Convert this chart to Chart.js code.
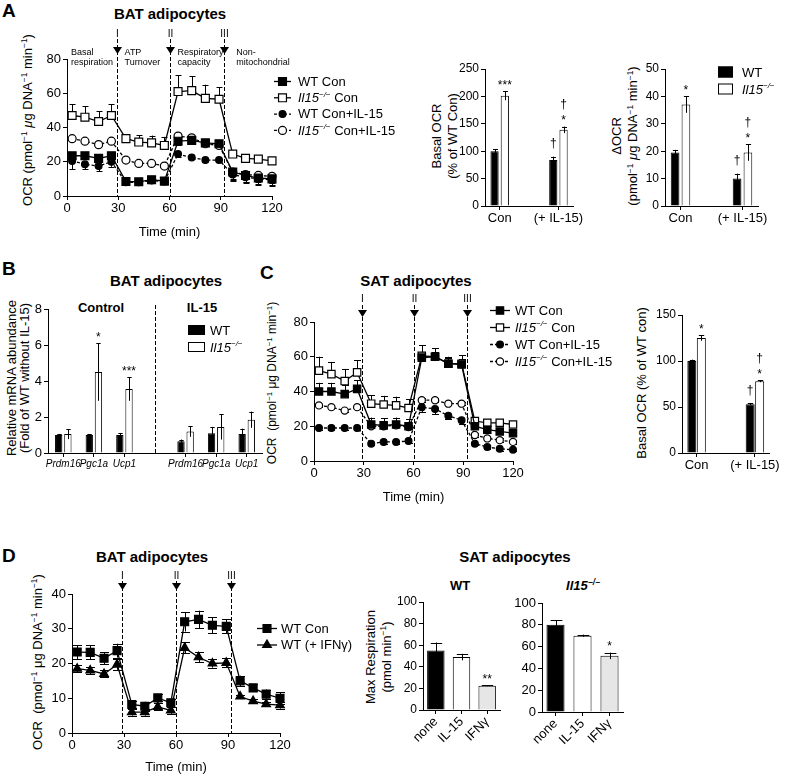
<!DOCTYPE html>
<html><head><meta charset="utf-8"><title>Figure</title>
<script src="https://cdn.jsdelivr.net/npm/chart.js@4.4.1/dist/chart.umd.min.js"></script>
<style>
html,body{margin:0;padding:0;background:#fff}
body{position:relative;width:785px;height:775px;overflow:hidden;font-family:"Liberation Sans",Arial,Helvetica,sans-serif;color:#000}
canvas{position:absolute}
.tx{position:absolute;white-space:nowrap;text-align:center}
.tx sup{font-size:0.65em;vertical-align:0;position:relative;top:-0.55em;line-height:0}
</style></head><body>
<script>
// ================= DATA =================
const timeMin = [3, 10.5, 18.5, 26, 34.5, 42, 49.5, 57, 65, 73, 81, 89, 97, 104.5, 112, 120];
const injectionTimes = [29, 60, 92];
const injectionLabels = ['I', 'II', 'III'];
const phaseNames = [['Basal', 'respiration'], ['ATP', 'Turnover'], ['Respiratory', 'capacity'], ['Non-', 'mitochondrial']];

// Panel A – BAT adipocytes, OCR time course
const ocrSeriesNames = ['WT Con', '<i>Il15</i><sup><i>−/−</i></sup> Con', 'WT Con+IL-15', '<i>Il15</i><sup><i>−/−</i></sup> Con+IL-15'];
const batWTCon     = [23.5, 23.5, 22, 23.5, 8.5, 8.3, 9.5, 8.7, 32, 32.5, 31, 30.5, 14, 12, 10.5, 10];
const batWTConErr  = [2, 2, 2, 2, 1, 1, 1, 1, 2, 2, 2, 2, 4, 4, 4, 4];
const batKOCon     = [47, 46, 43.5, 47, 33.5, 31.5, 31, 29.5, 61, 61.5, 57, 56.5, 24.5, 22, 21.5, 20.5];
const batKOConErr  = [6.5, 6.5, 6, 6.5, 2.6, 4, 4.3, 5, 9.5, 8.5, 8, 7, 2, 1.2, 1.2, 1.5];
const batWTIL      = [20.5, 18.5, 17.5, 20, 8, 8, 9, 8.5, 24.5, 22.5, 21, 21, 12.5, 11, 10, 9.5];
const batWTILErr   = [5, 3, 3, 3, 1, 1, 1, 1, 1.5, 1, 1, 1, 3, 3, 3, 3];
const batKOIL      = [33.5, 32, 30, 32, 21, 19, 19, 17.5, 35, 34, 30.5, 29.5, 14, 12.5, 12, 11.5];
const batKOILErr   = [1, 1, 1, 1, 1, 1, 1, 1, 2, 2, 1.5, 1.5, 5, 5, 4, 4];

// Panel A – Basal OCR and ΔOCR bars
const groupLabels = ['Con', '(+ IL-15)'];
const genotypeNames = ['WT', '<i>Il15</i><sup><i>−/−</i></sup>'];
const basalWT = [100, 84],   basalWTErr = [4, 6],   basalWTMarks = [[], ['†']];
const basalKO = [201, 139],  basalKOErr = [8, 6],   basalKOMarks = [['***'], ['*', '†']];
const deltaWT = [19.5, 10],  deltaWTErr = [1, 1.8], deltaWTMarks = [[], ['†']];
const deltaKO = [37, 19.5],  deltaKOErr = [3, 3],   deltaKOMarks = [['*'], ['*', '†']];

// Panel B – relative mRNA abundance
const genes = ['Prdm16', 'Pgc1a', 'Ucp1'];
const treatmentGroups = ['Control', 'IL-15'];
const mrnaWTControl = [1.0, 1.0, 1.0],   mrnaWTControlErr = [0.05, 0.05, 0.1];
const mrnaKOControl = [1.05, 4.5, 3.55], mrnaKOControlErr = [0.28, 1.6, 0.65], mrnaKOControlMarks = [[], ['*'], ['***']];
const mrnaWTIL15 = [0.65, 1.1, 1.05],    mrnaWTIL15Err = [0.1, 0.35, 0.3];
const mrnaKOIL15 = [1.2, 1.45, 1.85],    mrnaKOIL15Err = [0.3, 0.7, 0.45];

// Panel C – SAT adipocytes
const satWTCon    = [40, 40, 38.5, 41.5, 21, 20.5, 21, 20, 59.5, 60, 56, 55.5, 20, 18, 17, 16];
const satWTConErr = [5, 5, 5, 5, 4, 4, 4, 4, 3, 3, 3, 3, 2, 2, 2, 2];
const satKOCon    = [52, 50, 46, 51, 33, 32.5, 32, 30.5, 60.5, 60, 56, 56, 23, 22, 22, 21];
const satKOConErr = [8, 7, 7, 7, 5, 5, 5, 5, 6, 5, 4, 5, 2, 2, 1, 1];
const satWTIL     = [19, 19, 19, 19, 10, 11, 11, 11.5, 31, 30, 26, 23.5, 10, 8, 7, 6.5];
const satWTILErr  = [1, 1, 1, 1, 1, 1, 1, 1, 3, 3, 2, 2, 1, 1, 1, 1];
const satKOIL     = [32, 31, 29, 31, 20, 20, 20.5, 19.5, 35, 35, 33, 33, 15, 13, 12, 11];
const satKOILErr  = [1, 1, 1, 1, 1, 1, 1, 1, 1, 1, 1, 1, 1, 1, 1, 1];
const satBasalWT = [100, 53], satBasalWTErr = [1.5, 1], satBasalWTMarks = [[], ['†']];
const satBasalKO = [125, 78], satBasalKOErr = [3, 1],   satBasalKOMarks = [['*'], ['*', '†']];

// Panel D – IFNγ
const ifnSeriesNames = ['WT Con', 'WT (+ IFNγ)'];
const dWTCon    = [23.3, 23.2, 21.5, 23.7, 8.2, 7.7, 10.1, 8.7, 32, 32.7, 31, 30.7, 15, 13, 11.2, 10];
const dWTConErr = [2, 2, 1.7, 2, 1.1, 1.3, 1, 1.2, 2.8, 2.5, 2.3, 2, 1.5, 1, 1.3, 1.7];
const dWTIFN    = [18.5, 18, 17, 19.7, 6, 6, 7.5, 6.5, 24.5, 21.8, 20, 20.2, 10.5, 9.2, 8.3, 8];
const dWTIFNErr = [1, 1, 1, 1.5, 1, 1, 1, 1, 1.6, 1.5, 1.2, 1.3, 0.5, 0.5, 0.5, 1];
const treatments = ['none', 'IL-15', 'IFNγ'];
const maxRespWT = [55, 49, 22.5], maxRespWTErr = [7.5, 3, 0.5], maxRespWTMarks = [[], [], ['**']];
const maxRespKO = [80, 70, 51.5], maxRespKOErr = [4, 1, 3],    maxRespKOMarks = [[], [], ['*']];

// ================= HELPERS =================
const FONT = '"Liberation Sans", Arial, Helvetica, sans-serif';
Chart.defaults.font.family = FONT;
Chart.defaults.color = '#000';

function addText(html, x, y, o) {
  o = o || {};
  const d = document.createElement('div');
  d.className = 'tx';
  d.innerHTML = html;
  const tr = o.anchor === 'lt' ? '' : 'translate(-50%,-50%)' + (o.rot ? ' rotate(-90deg)' : '');
  d.style.cssText += `left:${x}px;top:${y}px;font-size:${o.size || 13}px;font-weight:${o.bold ? 'bold' : 'normal'};line-height:${o.lh || 1.2};transform:${tr};`;
  document.body.appendChild(d);
}

function makeCanvas(area, m) {
  const c = document.createElement('canvas');
  const w = area.r - area.l + m.left + m.right;
  const h = area.b - area.t + m.top + m.bottom;
  c.width = w; c.height = h;
  c.style.left = (area.l - m.left) + 'px';
  c.style.top = (area.t - m.top) + 'px';
  c.style.width = w + 'px'; c.style.height = h + 'px';
  document.body.appendChild(c);
  return c;
}

function parseRich(s) {
  const out = []; let it = false, sup = false, b = false;
  s.split(/(<\/?(?:i|sup|b)>)/).forEach(tok => {
    if (tok === '<i>') it = true; else if (tok === '</i>') it = false;
    else if (tok === '<sup>') sup = true; else if (tok === '</sup>') sup = false;
    else if (tok === '<b>') b = true; else if (tok === '</b>') b = false;
    else if (tok) out.push({t: tok, it, sup, b});
  });
  return out;
}
function drawRich(ctx, s, x, cy, size) {
  ctx.textBaseline = 'alphabetic'; ctx.textAlign = 'left'; ctx.fillStyle = '#000';
  const base = cy + 0.36 * size;
  let cx = x;
  for (const r of parseRich(s)) {
    const fs = r.sup ? Math.round(size * 0.65) : size;
    ctx.font = `${r.b ? 'bold ' : ''}${r.it ? 'italic ' : ''}${fs}px ${FONT}`;
    ctx.fillText(r.t, cx, r.sup ? base - size * 0.4 : base);
    cx += ctx.measureText(r.t).width;
  }
}

function valOf(raw) { return (raw && typeof raw === 'object') ? raw.y : raw; }

function drawErr(chart, o) {
  const ctx = chart.ctx;
  ctx.save();
  ctx.strokeStyle = '#000'; ctx.lineWidth = 1; ctx.setLineDash([]);
  chart.data.datasets.forEach((ds, i) => {
    if (!ds.errors) return;
    const meta = chart.getDatasetMeta(i), ys = chart.scales[meta.yAxisID];
    const dir = ds.errDir || 'both';
    meta.data.forEach((el, j) => {
      const v = valOf(ds.data[j]); const e = ds.errors[j];
      if (v == null || !e) return;
      const x = Math.round(el.x) + 0.5;
      const yv = ys.getPixelForValue(v);
      const yt = dir !== 'down' ? ys.getPixelForValue(v + e) : yv;
      const yb = dir !== 'up' ? ys.getPixelForValue(Math.max(0, v - e)) : yv;
      const cw = (o && o.capW) ? o.capW : (el.width ? el.width * ((o && o.capRatio) || 0.6) : 6);
      ctx.beginPath();
      ctx.moveTo(x, yt); ctx.lineTo(x, yb);
      if (dir !== 'down') { ctx.moveTo(x - cw / 2, Math.round(yt) + 0.5); ctx.lineTo(x + cw / 2, Math.round(yt) + 0.5); }
      if (dir !== 'up' && chart.config.type === 'line') { ctx.moveTo(x - cw / 2, Math.round(yb) + 0.5); ctx.lineTo(x + cw / 2, Math.round(yb) + 0.5); }
      ctx.stroke();
    });
  });
  ctx.restore();
}

function drawMarks(chart) {
  const ctx = chart.ctx;
  ctx.save();
  chart.data.datasets.forEach((ds, i) => {
    if (!ds.marks) return;
    const meta = chart.getDatasetMeta(i), ys = chart.scales[meta.yAxisID];
    meta.data.forEach((el, j) => {
      const list = ds.marks[j]; if (!list || !list.length) return;
      const v = ds.data[j]; const e = ds.errors ? (ds.errors[j] || 0) : 0;
      let y = ys.getPixelForValue(v + e);
      ctx.font = '12px ' + FONT; ctx.textAlign = 'center'; ctx.textBaseline = 'alphabetic'; ctx.fillStyle = '#000';
      list.forEach((mk, k) => {
        const star = mk[0] === '*';
        y -= (k === 0) ? (star ? 9 : 13) : 13;
        ctx.fillText(mk, el.x, y + (star ? 0.57 * 12 : 0.28 * 12));
      });
    });
  });
  ctx.restore();
}

const errPlugin = {
  id: 'errBars',
  beforeDatasetsDraw(chart, a, o) { if (chart.config.type === 'line') drawErr(chart, o); },
  afterDatasetsDraw(chart, a, o) { if (chart.config.type === 'bar') { drawErr(chart, o); drawMarks(chart); } }
};

const injPlugin = {
  id: 'inj',
  afterDraw(chart, a, o) {
    if (!o || !o.times) return;
    const ctx = chart.ctx, top = chart.chartArea.top, bottom = chart.chartArea.bottom, xs = chart.scales.x;
    ctx.save();
    ctx.strokeStyle = '#000'; ctx.fillStyle = '#000'; ctx.lineWidth = 1;
    o.times.forEach((t, i) => {
      const x = Math.round(xs.getPixelForValue(t)) + 0.5;
      ctx.setLineDash([4, 2]);
      ctx.beginPath(); ctx.moveTo(x, top - o.lineTop); ctx.lineTo(x, bottom); ctx.stroke();
      ctx.setLineDash([]);
      ctx.beginPath();
      ctx.moveTo(x - 4.5, top - o.arrowBase); ctx.lineTo(x + 4.5, top - o.arrowBase); ctx.lineTo(x, top - o.arrowTip);
      ctx.closePath(); ctx.fill();
      ctx.font = '10px ' + FONT; ctx.textAlign = 'center'; ctx.textBaseline = 'middle';
      ctx.fillText(o.labels[i], x, top - o.labelOff);
    });
    if (o.phases) {
      const bounds = [0].concat(o.times);
      ctx.font = '9px ' + FONT; ctx.textAlign = 'left'; ctx.textBaseline = 'middle';
      o.phases.forEach((lines, k) => {
        const x = xs.getPixelForValue(bounds[k]) + (k === 0 ? 4 : o.phaseOff[k]);
        lines.forEach((ln, r) => ctx.fillText(ln, x, top - 6 + r * 10));
      });
    }
    ctx.restore();
  }
};

const legPlugin = {
  id: 'richLegend',
  afterDraw(chart, a, o) {
    if (!o || !o.labels) return;
    const ctx = chart.ctx; ctx.save();
    chart.data.datasets.forEach((ds, i) => {
      if (i >= o.labels.length) return;
      const y = o.y + i * o.dy;
      if (o.kind === 'box') {
        ctx.fillStyle = ds.backgroundColor; ctx.fillRect(o.x, y - o.bh / 2, o.bw, o.bh);
        ctx.strokeStyle = '#000'; ctx.lineWidth = 1; ctx.strokeRect(o.x + 0.5, y - o.bh / 2 + 0.5, o.bw - 1, o.bh - 1);
        drawRich(ctx, o.labels[i], o.x + o.bw + o.gap, y, o.size);
      } else {
        ctx.strokeStyle = '#000'; ctx.lineWidth = ds.borderWidth; ctx.setLineDash(ds.borderDash || []);
        ctx.beginPath(); ctx.moveTo(o.x, y + 0.5); ctx.lineTo(o.x + o.len, y + 0.5); ctx.stroke(); ctx.setLineDash([]);
        ctx.fillStyle = ds.pointBackgroundColor; ctx.strokeStyle = '#000'; ctx.lineWidth = ds.pointBorderWidth;
        if (Chart.helpers && Chart.helpers.drawPoint) {
          Chart.helpers.drawPoint(ctx, {pointStyle: ds.pointStyle, radius: ds.pointRadius, rotation: 0, borderWidth: ds.pointBorderWidth}, o.x + o.len / 2, y + 0.5);
        }
        drawRich(ctx, o.labels[i], o.x + o.len + o.gap, y, o.size);
      }
    });
    ctx.restore();
  }
};

const divPlugin = {
  id: 'divider',
  afterDraw(chart, a, o) {
    if (!o || o.index == null) return;
    const ctx = chart.ctx, xs = chart.scales.x;
    const x = Math.round(xs.getPixelForValue(o.index)) + 0.5;
    ctx.save(); ctx.strokeStyle = '#000'; ctx.lineWidth = 1; ctx.setLineDash([4, 2]);
    ctx.beginPath(); ctx.moveTo(x, chart.chartArea.top - o.top); ctx.lineTo(x, chart.chartArea.bottom); ctx.stroke();
    ctx.restore();
  }
};

function yAxis(m, max, step, size) {
  return {
    type: 'linear', min: 0, max: max,
    afterFit: s => { s.width = m.left; },
    ticks: {stepSize: step, font: {size: size}, color: '#000', padding: 2},
    grid: {drawOnChartArea: false, drawTicks: true, tickLength: 4, color: '#000', lineWidth: 1},
    border: {display: true, color: '#000', width: 1}
  };
}

function lineDS(label, vals, errs, dir, style) {
  return Object.assign({
    label: label, data: timeMin.map((t, i) => ({x: t, y: vals[i]})),
    errors: errs, errDir: dir,
    borderColor: '#000', borderWidth: 1.3, tension: 0, clip: false,
    pointBorderColor: '#000', pointBorderWidth: 1.2, pointHoverRadius: 0
  }, style);
}

function lineChart(area, m, datasets, yMax, yStep, inj, legend, capW) {
  const canvas = makeCanvas(area, m);
  const ox = area.l - m.left, oy = area.t - m.top;
  return new Chart(canvas, {
    type: 'line',
    data: {datasets: datasets},
    options: {
      responsive: false, animation: false, events: [],
      layout: {padding: {left: 0, top: m.top, right: m.right, bottom: 0}},
      scales: {
        x: {
          type: 'linear', min: 0, max: 120,
          afterFit: s => { s.height = m.bottom; },
          ticks: {stepSize: 30, font: {size: 13}, color: '#000', padding: 1},
          grid: {drawOnChartArea: false, tickLength: 4, color: '#000'},
          border: {color: '#000', width: 1},
          title: {display: true, text: 'Time (min)', font: {size: 13}, color: '#000', padding: {top: 0, bottom: m.titleBottom == null ? 2 : m.titleBottom}}
        },
        y: yAxis(m, yMax, yStep, 13)
      },
      plugins: {
        legend: {display: false}, tooltip: {enabled: false},
        inj: inj,
        errBars: {capW: capW},
        richLegend: Object.assign({}, legend, {x: legend.x - ox, y: legend.y - oy})
      }
    },
    plugins: [errPlugin, injPlugin, legPlugin]
  });
}

function barDS(label, data, errors, marks, bg, cat, bar) {
  return {label: label, data: data, errors: errors, marks: marks, backgroundColor: bg, borderColor: '#000',
          borderWidth: 1, categoryPercentage: cat, barPercentage: bar};
}

function barChart(area, m, labels, datasets, yMax, yStep, opt) {
  const canvas = makeCanvas(area, m);
  const ox = area.l - m.left, oy = area.t - m.top;
  const plugins = {legend: {display: false}, tooltip: {enabled: false}, errBars: {capRatio: opt.capRatio || 0.6}};
  if (opt.legend) plugins.richLegend = Object.assign({}, opt.legend, {x: opt.legend.x - ox, y: opt.legend.y - oy});
  if (opt.divider) plugins.divider = opt.divider;
  return new Chart(canvas, {
    type: 'bar',
    data: {labels: labels, datasets: datasets},
    options: {
      responsive: false, animation: false, events: [],
      layout: {padding: {left: 0, top: m.top, right: m.right, bottom: 0}},
      scales: {
        x: {
          type: 'category', offset: true,
          afterFit: s => { s.height = m.bottom; },
          ticks: {autoSkip: false, minRotation: opt.rot || 0, maxRotation: opt.rot || 0,
                  font: Object.assign({size: 13}, opt.xFont || {}), color: '#000', padding: opt.xPad == null ? 1 : opt.xPad},
          grid: {offset: false, drawOnChartArea: false, tickLength: 4, color: '#000',
                 tickColor: c => (labels[c.index] ? '#000' : 'rgba(0,0,0,0)')},
          border: {color: '#000', width: 1}
        },
        y: yAxis(m, yMax, yStep, opt.ySize || 12)
      },
      plugins: plugins
    },
    plugins: [errPlugin, legPlugin, divPlugin]
  });
}

// ================= TEXT =================
addText('A', 2, 0, {size: 19, bold: true, anchor: 'lt'});
addText('B', 2, 258, {size: 19, bold: true, anchor: 'lt'});
addText('C', 260, 262, {size: 19, bold: true, anchor: 'lt'});
addText('D', 2, 545, {size: 19, bold: true, anchor: 'lt'});

addText('BAT adipocytes', 170, 14, {size: 15, bold: true});
addText('BAT adipocytes', 166, 281, {size: 15, bold: true});
addText('SAT adipocytes', 416, 281, {size: 15, bold: true});
addText('BAT adipocytes', 152, 557, {size: 15, bold: true});
addText('SAT adipocytes', 515, 557, {size: 15, bold: true});
addText('WT', 460, 586, {size: 13, bold: true});
addText('<i>Il15</i><sup><i>−/−</i></sup>', 583, 586, {size: 13, bold: true});
addText(treatmentGroups[0], 101, 308, {size: 13, bold: true});
addText(treatmentGroups[1], 202, 308, {size: 13, bold: true});

const ocrUnit = '(pmol<sup>−1</sup> <i>μ</i>g DNA<sup>−1</sup> min<sup>−1</sup>)';
addText('OCR ' + ocrUnit, 28, 120, {size: 13, rot: true});
addText('Basal OCR<br>(% of WT Con)', 445, 136, {size: 13, rot: true});
addText('ΔOCR<br>' + ocrUnit, 625, 136, {size: 13, rot: true, lh: 1.25});
addText('Relative mRNA abundance<br>(Fold of WT without IL-15)', 18, 378, {size: 13, rot: true, lh: 1.0});
addText('OCR&nbsp; (pmol<sup>−1</sup> μg DNA<sup>−1</sup> min<sup>−1</sup>)', 272, 383, {size: 12, rot: true});
addText('Basal OCR (% of WT con)', 642, 383, {size: 13, rot: true});
addText('OCR&nbsp; (pmol<sup>−1</sup> μg DNA<sup>−1</sup> min<sup>−1</sup>)', 38, 662, {size: 13, rot: true});
addText('Max Respiration<br>(pmol min<sup>−1</sup>)', 379, 657, {size: 13, rot: true});

// ================= CHARTS =================
const FSQ = {pointStyle: 'rect', pointRadius: 5.6, pointBackgroundColor: '#000'};
const OSQ = {pointStyle: 'rect', pointRadius: 5.6, pointBackgroundColor: '#fff'};
const FCI = {pointStyle: 'circle', pointRadius: 3.4, pointBackgroundColor: '#000', borderDash: [3, 2]};
const OCI = {pointStyle: 'circle', pointRadius: 4, pointBackgroundColor: '#fff', borderDash: [3, 2]};

// A1
lineChart({l: 67, t: 59, r: 272, b: 196}, {left: 67, top: 45, right: 140, bottom: 46},
  [lineDS('WT Con', batWTCon, batWTConErr, 'down', FSQ),
   lineDS('Il15-/- Con', batKOCon, batKOConErr, 'up', OSQ),
   lineDS('WT Con+IL-15', batWTIL, batWTILErr, 'down', FCI),
   lineDS('Il15-/- Con+IL-15', batKOIL, batKOILErr, 'down', OCI)],
  80, 20,
  {times: injectionTimes, labels: injectionLabels, lineTop: 20, arrowBase: 12, arrowTip: 5, labelOff: 25,
   phases: phaseNames, phaseOff: [4, 8, 8, 12]},
  {x: 274, y: 81, dy: 16.3, len: 17, gap: 7, size: 13, labels: ocrSeriesNames}, 6);

// A2
barChart({l: 485, t: 69, r: 580, b: 206}, {left: 30, top: 60, right: 5, bottom: 30},
  [groupLabels[0], '', groupLabels[1]],
  [barDS('WT', [basalWT[0], null, basalWT[1]], [basalWTErr[0], null, basalWTErr[1]], [basalWTMarks[0], [], basalWTMarks[1]], '#000', 0.7, 0.8),
   barDS('Il15-/-', [basalKO[0], null, basalKO[1]], [basalKOErr[0], null, basalKOErr[1]], [basalKOMarks[0], [], basalKOMarks[1]], '#fff', 0.7, 0.8)],
  250, 50, {});

// A3
barChart({l: 665, t: 69, r: 758, b: 206}, {left: 30, top: 60, right: 27, bottom: 30},
  [groupLabels[0], '', groupLabels[1]],
  [barDS('WT', [deltaWT[0], null, deltaWT[1]], [deltaWTErr[0], null, deltaWTErr[1]], [deltaWTMarks[0], [], deltaWTMarks[1]], '#000', 0.7, 0.8),
   barDS('Il15-/-', [deltaKO[0], null, deltaKO[1]], [deltaKOErr[0], null, deltaKOErr[1]], [deltaKOMarks[0], [], deltaKOMarks[1]], '#fff', 0.7, 0.8)],
  50, 10,
  {legend: {kind: 'box', x: 718, y: 72, dy: 17, bw: 15, bh: 11, gap: 9, size: 13, labels: genotypeNames}});

// B
barChart({l: 48, t: 309, r: 262, b: 453}, {left: 48, top: 30, right: 10, bottom: 25},
  genes.concat([''], genes),
  [barDS('WT', mrnaWTControl.concat([null], mrnaWTIL15), mrnaWTControlErr.concat([null], mrnaWTIL15Err), null, '#000', 0.6, 0.8),
   barDS('Il15-/-', mrnaKOControl.concat([null], mrnaKOIL15), mrnaKOControlErr.concat([null], mrnaKOIL15Err),
         mrnaKOControlMarks.concat([[], [], [], []]), '#fff', 0.6, 0.8)],
  8, 2,
  {ySize: 13, xFont: {size: 10, style: 'italic'}, divider: {index: 3, top: 4},
   legend: {kind: 'box', x: 188, y: 330, dy: 17, bw: 17, bh: 10, gap: 5, size: 13, labels: genotypeNames}});

// C1
lineChart({l: 314, t: 322, r: 513, b: 461}, {left: 34, top: 32, right: 120, bottom: 46},
  [lineDS('WT Con', satWTCon, satWTConErr, 'up', Object.assign({}, FSQ, {pointRadius: 5.2})),
   lineDS('Il15-/- Con', satKOCon, satKOConErr, 'up', Object.assign({}, OSQ, {pointRadius: 5.2})),
   lineDS('WT Con+IL-15', satWTIL, satWTILErr, 'down', FCI),
   lineDS('Il15-/- Con+IL-15', satKOIL, satKOILErr, 'both', Object.assign({}, OCI, {pointRadius: 3.6}))],
  80, 20,
  {times: injectionTimes, labels: injectionLabels, lineTop: 17, arrowBase: 12, arrowTip: 5, labelOff: 23},
  {x: 490, y: 310, dy: 17, len: 20, gap: 5, size: 13, labels: ocrSeriesNames}, 7);

// C2
barChart({l: 682, t: 315, r: 774, b: 453}, {left: 30, top: 40, right: 8, bottom: 30},
  [groupLabels[0], '', groupLabels[1]],
  [barDS('WT', [satBasalWT[0], null, satBasalWT[1]], [satBasalWTErr[0], null, satBasalWTErr[1]], [satBasalWTMarks[0], [], satBasalWTMarks[1]], '#000', 0.65, 0.95),
   barDS('Il15-/-', [satBasalKO[0], null, satBasalKO[1]], [satBasalKOErr[0], null, satBasalKOErr[1]], [satBasalKOMarks[0], [], satBasalKOMarks[1]], '#fff', 0.65, 0.95)],
  150, 50, {});

// D1
lineChart({l: 72, t: 594, r: 280, b: 733}, {left: 40, top: 30, right: 85, bottom: 42, titleBottom: 0},
  [lineDS('WT Con', dWTCon, dWTConErr, 'both', FSQ),
   lineDS('WT (+ IFNγ)', dWTIFN, dWTIFNErr, 'both', {pointStyle: 'triangle', pointRadius: 5, pointBackgroundColor: '#000'})],
  40, 10,
  {times: injectionTimes, labels: injectionLabels, lineTop: 13, arrowBase: 11, arrowTip: 4, labelOff: 18},
  {x: 257, y: 628, dy: 16.5, len: 20, gap: 4, size: 13, labels: ifnSeriesNames}, 9);

// D2
barChart({l: 423, t: 602, r: 500, b: 710}, {left: 30, top: 30, right: 5, bottom: 55},
  treatments,
  [barDS('WT', maxRespWT, maxRespWTErr, maxRespWTMarks, ['#000', '#fff', '#e6e6e6'], 1, 0.68)],
  100, 20, {rot: 45, capRatio: 0.65, xPad: 0});

// D3
barChart({l: 542, t: 603, r: 623, b: 712}, {left: 30, top: 30, right: 5, bottom: 55},
  treatments,
  [barDS('Il15-/-', maxRespKO, maxRespKOErr, maxRespKOMarks, ['#000', '#fff', '#e6e6e6'], 1, 0.67)],
  100, 20, {rot: 45, capRatio: 0.65, xPad: 0, ySize: 13});
</script>
</body></html>
